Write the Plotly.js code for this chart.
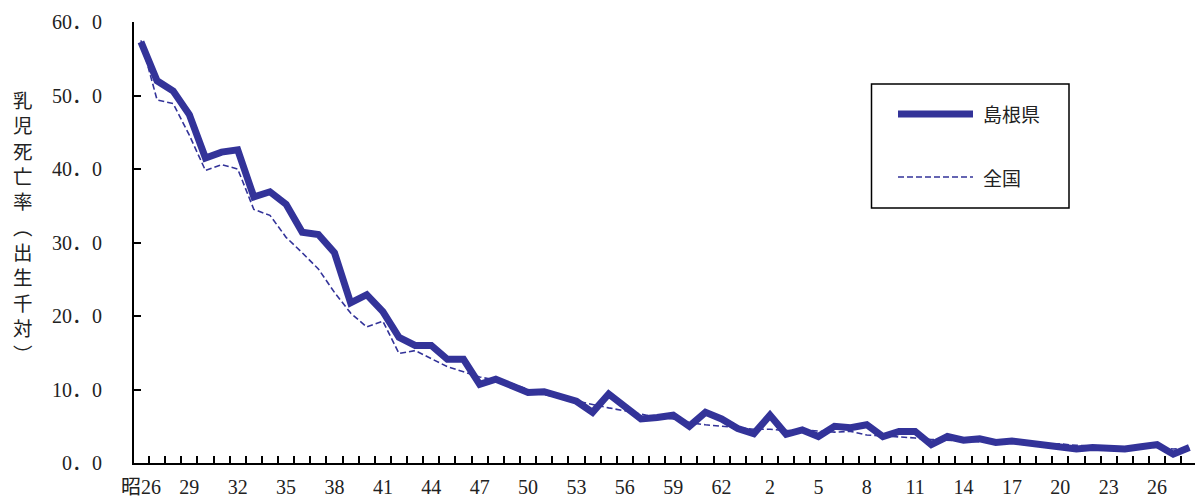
<!DOCTYPE html>
<html>
<head>
<meta charset="utf-8">
<script src="https://cdn.plot.ly/plotly-3.0.1.min.js"></script>
<style>html,body{margin:0;padding:0;background:#fff;}#chart{width:1195px;height:501px;}</style>
</head>
<body>
<div id="chart"></div>
<script>
// ---- data ----
const years = [1951,1952,1953,1954,1955,1956,1957,1958,1959,1960,
  1961,1962,1963,1964,1965,1966,1967,1968,1969,1970,
  1971,1972,1973,1974,1975,1976,1977,1978,1979,1980,
  1981,1982,1983,1984,1985,1986,1987,1988,1989,1990,
  1991,1992,1993,1994,1995,1996,1997,1998,1999,2000,
  2001,2002,2003,2004,2005,2006,2007,2008,2009,2010,
  2011,2012,2013,2014,2015,2016];
const shimane = [57.3,52.0,50.6,47.4,41.5,42.3,42.6,36.2,36.9,35.2,
  31.4,31.1,28.6,21.8,22.9,20.6,17.1,16.0,16.0,14.1,
  14.1,10.7,11.4,10.6,9.6,9.7,9.0,8.4,6.9,9.4,
  7.7,6.0,6.2,6.5,5.0,6.9,6.0,4.7,4.0,6.5,
  3.9,4.5,3.6,5.0,4.8,5.2,3.6,4.3,4.3,2.5,
  3.6,3.1,3.3,2.8,3.0,2.7,2.3,2.0,1.9,2.1,
  1.9,1.9,2.2,2.5,1.2,2.1];
const national = [57.5,49.4,48.9,44.6,39.8,40.6,40.0,34.5,33.7,30.7,
  28.6,26.4,23.2,20.4,18.5,19.3,14.9,15.3,14.2,13.1,
  12.4,11.7,11.3,10.8,10.0,9.3,8.9,8.4,7.9,7.5,
  7.1,6.6,6.2,6.0,5.5,5.2,5.0,4.8,4.6,4.6,
  4.4,4.5,4.3,4.2,4.3,3.8,3.7,3.6,3.4,3.2,
  3.1,3.0,3.0,2.8,2.8,2.6,2.6,2.6,2.4,2.3,
  2.3,2.2,2.1,2.1,1.9,2.0];
const seriesNames = ['島根県','全国'];
const xTickYears = [1951,1954,1957,1960,1963,1966,1969,1972,1975,1978,1981,1984,1987,1990,1993,1996,1999,2002,2005,2008,2011,2014];
const xTickLabels = ['昭26','29','32','35','38','41','44','47','50','53','56','59','62','2','5','8','11','14','17','20','23','26'];
const yTickValues = [0,10,20,30,40,50,60];
const yTickLabels = ['0．0','10．0','20．0','30．0','40．0','50．0','60．0'];
const yTitleText = '乳児死亡率︵出生千対︶';

// ---- layout geometry ----
const W = 1195, H = 501, L = 134, R = 0, T = 22, B = 38;
const px = v => (v - L) / (W - L - R);
const py = v => 1 - (v - T) / (H - T - B);
const color = '#333399';
const numFont = 'Liberation Serif, Noto Sans CJK JP, serif';
const cjkFont = 'Noto Sans CJK JP, sans-serif';

const traces = [
  {x: years, y: shimane, name: seriesNames[0], type: 'scatter', mode: 'lines',
   line: {color: color, width: 7}},
  {x: years, y: national, name: seriesNames[1], type: 'scatter', mode: 'lines',
   line: {color: color, width: 1.6, dash: '6px,3px'}}
];

const layout = {
  width: W, height: H,
  margin: {l: L, r: R, t: T, b: B, pad: 0},
  paper_bgcolor: '#fff', plot_bgcolor: '#fff',
  showlegend: false,
  font: {family: numFont, size: 20, color: '#222'},
  xaxis: {
    range: [1950.57, 2016.35],
    tickmode: 'array', tickvals: xTickYears, ticktext: xTickLabels,
    ticks: '', ticklabelstandoff: 5,
    tickfont: {family: numFont, size: 20, color: '#222'},
    showline: true, linecolor: '#000', linewidth: 2,
    showgrid: false, zeroline: false,
    minor: {tickmode: 'linear', tick0: 1950.5, dtick: 1, ticks: 'inside',
            ticklen: 7, tickwidth: 2, tickcolor: '#000', showgrid: false}
  },
  yaxis: {
    range: [0, 60],
    tickmode: 'array', tickvals: yTickValues, ticktext: yTickLabels,
    ticks: 'inside', ticklen: 7, tickwidth: 2, tickcolor: '#000',
    ticklabelstandoff: 26,
    tickfont: {family: numFont, size: 20, color: '#222'},
    showline: true, linecolor: '#000', linewidth: 2,
    showgrid: false, zeroline: false
  },
  shapes: [
    {type: 'rect', xref: 'paper', yref: 'paper', x0: px(871.5), x1: px(1069), y0: py(208), y1: py(84),
     line: {color: '#000', width: 1.5}, fillcolor: 'rgba(0,0,0,0)'},
    {type: 'line', xref: 'paper', yref: 'paper', x0: px(898), x1: px(973), y0: py(114), y1: py(114),
     line: {color: color, width: 7}},
    {type: 'line', xref: 'paper', yref: 'paper', x0: px(898), x1: px(973), y0: py(177), y1: py(177),
     line: {color: color, width: 1.6, dash: '6px,3px'}}
  ],
  annotations: [
    {xref: 'paper', yref: 'paper', x: px(981), y: py(114), xanchor: 'left', yanchor: 'middle',
     text: seriesNames[0], showarrow: false, font: {family: cjkFont, size: 19, color: '#222'}},
    {xref: 'paper', yref: 'paper', x: px(981), y: py(178), xanchor: 'left', yanchor: 'middle',
     text: seriesNames[1], showarrow: false, font: {family: cjkFont, size: 19, color: '#222'}},
    {xref: 'paper', yref: 'paper', x: px(23), y: py(226), xanchor: 'center', yanchor: 'middle',
     text: Array.from(yTitleText).join('<br>'), showarrow: false, align: 'center',
     font: {family: cjkFont, size: 19.5, color: '#222'}}
  ]
};

Plotly.newPlot('chart', traces, layout, {staticPlot: true, displayModeBar: false});
</script>
</body>
</html>
